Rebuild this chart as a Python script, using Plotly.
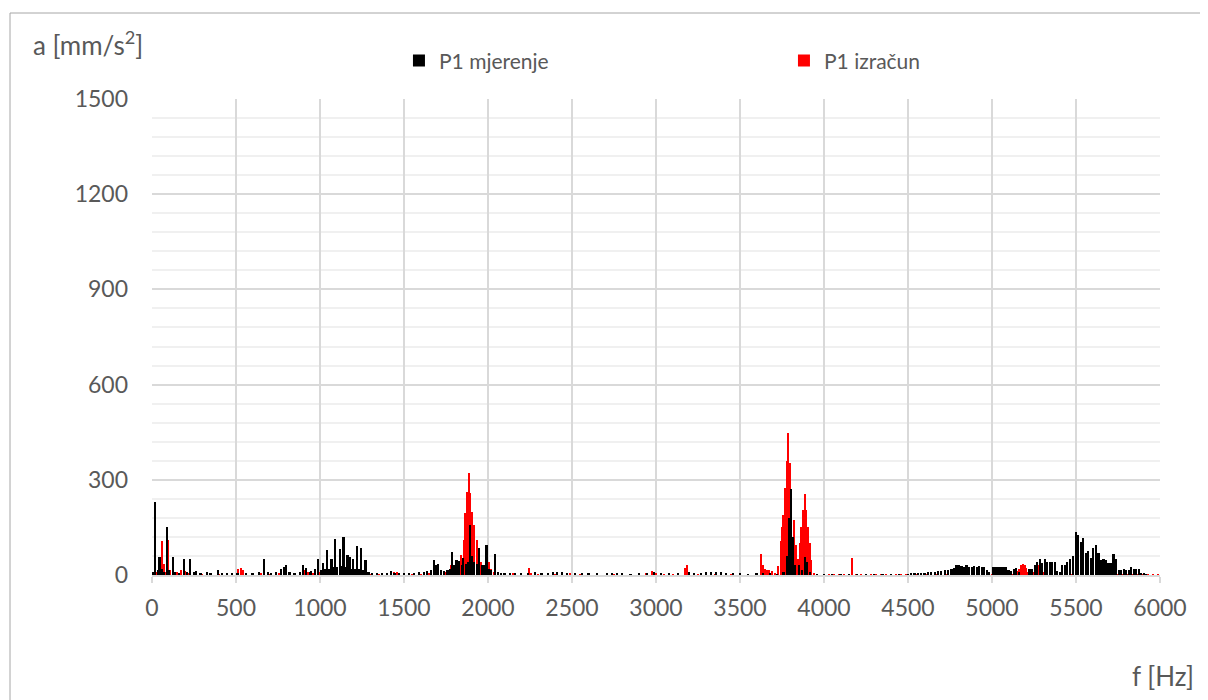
import plotly.graph_objects as go

# ---- Data ----
# P1 mjerenje (measured) - frequency [Hz] and amplitude [mm/s^2]
f_mjerenje = [
    10, 20, 35, 46, 60, 75, 91, 105, 125, 140, 160, 192, 210, 230, 250, 265, 290, 330, 350, 393,
    420, 450, 480, 510, 560, 600, 640, 670, 690, 710, 740, 770, 785, 800, 820, 850, 880, 900, 920, 940,
    950, 970, 990, 1005, 1020, 1030, 1043, 1055, 1070, 1080, 1093, 1105, 1119, 1130, 1141, 1152, 1165, 1180, 1190, 1199,
    1210, 1222, 1233, 1244, 1258, 1272, 1290, 1310, 1340, 1370, 1400, 1423, 1445, 1470, 1500, 1530, 1560, 1590, 1620, 1640,
    1660, 1679, 1690, 1705, 1720, 1740, 1760, 1775, 1788, 1800, 1814, 1830, 1845, 1855, 1870, 1882, 1893, 1905, 1920, 1935,
    1950, 1965, 1980, 1992, 2005, 2020, 2042, 2060, 2080, 2100, 2130, 2160, 2200, 2240, 2280, 2320, 2360, 2390, 2410, 2440,
    2470, 2520, 2560, 2600, 2650, 2710, 2740, 2770, 2800, 2850, 2900, 2950, 2990, 3030, 3080, 3130, 3200, 3230, 3270, 3300,
    3330, 3360, 3390, 3420, 3460, 3500, 3550, 3600, 3640, 3680, 3720, 3760, 3782, 3794, 3804, 3815, 3830, 3853, 3870, 3890,
    3900, 3920, 3960, 4000, 4050, 4100, 4150, 4200, 4250, 4300, 4350, 4400, 4450, 4500, 4520, 4540, 4560, 4580, 4600, 4620,
    4640, 4660, 4680, 4700, 4720, 4740, 4760, 4775, 4790, 4805, 4820, 4835, 4850, 4865, 4880, 4895, 4910, 4925, 4940, 4955,
    4970, 4985, 5010, 5025, 5040, 5055, 5070, 5085, 5100, 5115, 5130, 5145, 5160, 5225, 5240, 5255, 5270, 5285, 5300, 5315,
    5330, 5345, 5360, 5375, 5390, 5405, 5420, 5435, 5450, 5465, 5485, 5500, 5515, 5530, 5545, 5560, 5575, 5590, 5605, 5620,
    5635, 5650, 5665, 5680, 5695, 5710, 5725, 5740, 5755, 5770, 5785, 5800, 5815, 5830, 5845, 5860, 5875, 5890, 5905, 5920,
]
a_mjerenje = [
    8, 230, 15, 58, 20, 10, 150, 15, 58, 10, 6, 50, 8, 50, 10, 12, 5, 8, 5, 15,
    5, 4, 5, 4, 5, 6, 8, 50, 8, 6, 8, 20, 25, 30, 10, 6, 8, 30, 21, 8,
    12, 20, 49, 15, 38, 20, 79, 20, 50, 25, 112, 25, 81, 28, 121, 25, 63, 58, 20, 49,
    18, 91, 20, 84, 15, 46, 8, 6, 5, 5, 6, 12, 5, 4, 5, 5, 6, 8, 10, 12,
    15, 47, 30, 35, 15, 12, 15, 20, 73, 30, 47, 45, 30, 55, 35, 40, 158, 60, 40, 35,
    85, 30, 30, 95, 20, 15, 65, 8, 6, 5, 5, 4, 5, 4, 10, 5, 6, 10, 10, 8,
    4, 4, 4, 5, 4, 6, 6, 6, 4, 3, 4, 5, 8, 5, 4, 4, 8, 6, 5, 8,
    8, 8, 8, 6, 4, 4, 3, 4, 4, 4, 3, 8, 60, 180, 270, 120, 30, 30, 15, 58,
    40, 8, 3, 3, 2, 2, 2, 2, 2, 2, 2, 2, 2, 3, 4, 5, 6, 7, 7, 8,
    9, 11, 12, 13, 15, 17, 20, 22, 31, 30, 28, 25, 30, 26, 24, 28, 26, 27, 25, 26,
    15, 8, 24, 25, 25, 25, 24, 25, 15, 14, 20, 22, 10, 18, 20, 30, 42, 52, 38, 52,
    42, 42, 42, 40, 13, 10, 31, 31, 42, 52, 60, 137, 126, 105, 116, 68, 75, 55, 84, 95,
    68, 48, 52, 48, 38, 38, 65, 52, 15, 17, 18, 17, 15, 25, 20, 20, 18, 7, 6, 2,
]

# P1 izračun (calculated)
f_izracun = [
    15, 30, 50, 63, 75, 85, 99, 110, 130, 150, 175, 200, 220, 250, 300, 350, 400, 450, 480, 515,
    530, 545, 560, 600, 650, 700, 760, 800, 850, 910, 930, 960, 1000, 1050, 1100, 1150, 1200, 1250, 1300, 1350,
    1400, 1440, 1460, 1500, 1550, 1600, 1650, 1700, 1750, 1780, 1800, 1820, 1843, 1860, 1867, 1877, 1887, 1896, 1905, 1920,
    1935, 1950, 1962, 1975, 1995, 2010, 2020, 2040, 2060, 2100, 2150, 2200, 2244, 2260, 2300, 2400, 2490, 2550, 2650, 2750,
    2850, 2940, 2975, 3000, 3050, 3100, 3173, 3188, 3200, 3250, 3350, 3450, 3550, 3600, 3629, 3640, 3650, 3660, 3675, 3690,
    3710, 3728, 3744, 3752, 3760, 3768, 3782, 3788, 3800, 3807, 3821, 3835, 3848, 3858, 3866, 3876, 3887, 3897, 3906, 3916,
    3926, 3940, 3960, 4000, 4030, 4060, 4090, 4120, 4150, 4169, 4190, 4220, 4250, 4280, 4310, 4340, 4370, 4400, 4430, 4460,
    4490, 4520, 4550, 4580, 4610, 4640, 4670, 4700, 4730, 4760, 4790, 4820, 4850, 4880, 4910, 4940, 4970, 5000, 5030, 5060,
    5090, 5120, 5140, 5155, 5165, 5175, 5185, 5195, 5205, 5215, 5235, 5250, 5260, 5270, 5280, 5290, 5300, 5310, 5330, 5360,
    5390, 5420, 5450, 5480, 5510, 5540, 5570, 5600, 5630, 5660, 5690, 5720, 5750, 5780, 5810, 5840, 5870, 5900, 5930, 5960,
    5990,
]
a_izracun = [
    5, 10, 20, 107, 35, 10, 110, 15, 10, 8, 15, 12, 5, 4, 3, 3, 3, 4, 5, 18,
    21, 15, 5, 3, 4, 3, 5, 8, 5, 15, 8, 5, 8, 5, 6, 5, 5, 4, 3, 3,
    5, 10, 8, 4, 3, 3, 5, 6, 10, 30, 20, 25, 63, 110, 196, 263, 322, 257, 199, 157,
    110, 65, 40, 25, 50, 40, 20, 8, 5, 4, 4, 4, 23, 5, 3, 3, 5, 3, 3, 3,
    3, 5, 13, 5, 3, 3, 21, 31, 8, 3, 3, 3, 3, 4, 66, 31, 18, 15, 15, 12,
    5, 27, 108, 150, 190, 275, 359, 446, 354, 268, 173, 95, 50, 102, 152, 205, 254, 205, 150, 100,
    48, 5, 3, 3, 3, 3, 3, 3, 3, 55, 3, 3, 3, 3, 3, 3, 3, 3, 3, 3,
    3, 3, 3, 3, 3, 3, 3, 3, 3, 3, 3, 3, 3, 3, 3, 3, 3, 3, 3, 3,
    3, 3, 5, 12, 20, 30, 35, 30, 22, 10, 5, 8, 15, 25, 31, 28, 18, 8, 3, 3,
    3, 3, 3, 3, 3, 3, 3, 3, 3, 3, 3, 3, 3, 3, 3, 3, 3, 3, 3, 3,
    3,
]

x_ticks = [0, 500, 1000, 1500, 2000, 2500, 3000, 3500, 4000, 4500, 5000, 5500, 6000]
y_ticks = [0, 300, 600, 900, 1200, 1500]

FONT = "Lato, 'Open Sans', sans-serif"
TXT = "#595959"
GRID = "#d9d9d9"

# Page body adds an 8px offset; the figure is sized so the plot area lands at
# screen x 152..1160, y 99..575.
fig = go.Figure()
fig.add_trace(go.Bar(
    x=f_izracun, y=a_izracun, name="P1 izračun", width=9,
    marker=dict(color="#ff0000", line=dict(width=0)), legendrank=2,
))
fig.add_trace(go.Bar(
    x=f_mjerenje, y=a_mjerenje, name="P1 mjerenje", width=10,
    marker=dict(color="#000000", line=dict(width=0)), legendrank=1,
))

fig.update_layout(
    width=1200, height=692,
    margin=dict(l=144, r=48, t=91, b=125),
    paper_bgcolor="white", plot_bgcolor="white",
    barmode="overlay", bargap=0,
    font=dict(family=FONT, size=23, color=TXT),
    showlegend=True,
    legend=dict(
        orientation="h", x=0.245, xanchor="left", y=1.08, yanchor="middle",
        font=dict(family=FONT, size=21, color=TXT),
        entrywidth=340, entrywidthmode="pixels",
        bgcolor="rgba(0,0,0,0)", itemclick=False,
    ),
    xaxis=dict(
        range=[0, 6000], tickvals=x_ticks, ticktext=[str(v) for v in x_ticks],
        showgrid=True, gridcolor=GRID, gridwidth=2,
        ticks="outside", ticklen=6, tickwidth=2, tickcolor=GRID,
        showline=True, linecolor=GRID, linewidth=2,
        zeroline=False, ticklabelstandoff=5,
        tickfont=dict(family=FONT, size=23, color=TXT),
    ),
    yaxis=dict(
        range=[0, 1500], tickvals=y_ticks, ticktext=[str(v) for v in y_ticks],
        showgrid=True, gridcolor=GRID, gridwidth=2,
        minor=dict(dtick=60, showgrid=True, gridcolor="#f0f0f0", gridwidth=2),
        ticks="", showline=False, zeroline=False, ticklabelstandoff=23,
        tickfont=dict(family=FONT, size=23, color=TXT),
    ),
    annotations=[
        dict(text="a [mm/s<sup>2</sup>]", xref="paper", yref="paper",
             x=(31 - 152) / 1008, y=(575 - 44) / 476, xanchor="left", yanchor="middle",
             showarrow=False, font=dict(family=FONT, size=26, color=TXT)),
        dict(text="f [Hz]", xref="paper", yref="paper",
             x=(1196 - 152) / 1008, y=(575 - 676) / 476, xanchor="right", yanchor="middle",
             showarrow=False, font=dict(family=FONT, size=26, color=TXT)),
    ],
    shapes=[
        dict(type="rect", xref="paper", yref="paper",
             x0=(10 - 152) / 1008, x1=(1215 - 152) / 1008,
             y0=(575 - 710) / 476, y1=(575 - 13) / 476,
             line=dict(color="#a6a6a6", width=1), fillcolor="rgba(0,0,0,0)", layer="below"),
    ],
)

fig.write_html("out.html")
